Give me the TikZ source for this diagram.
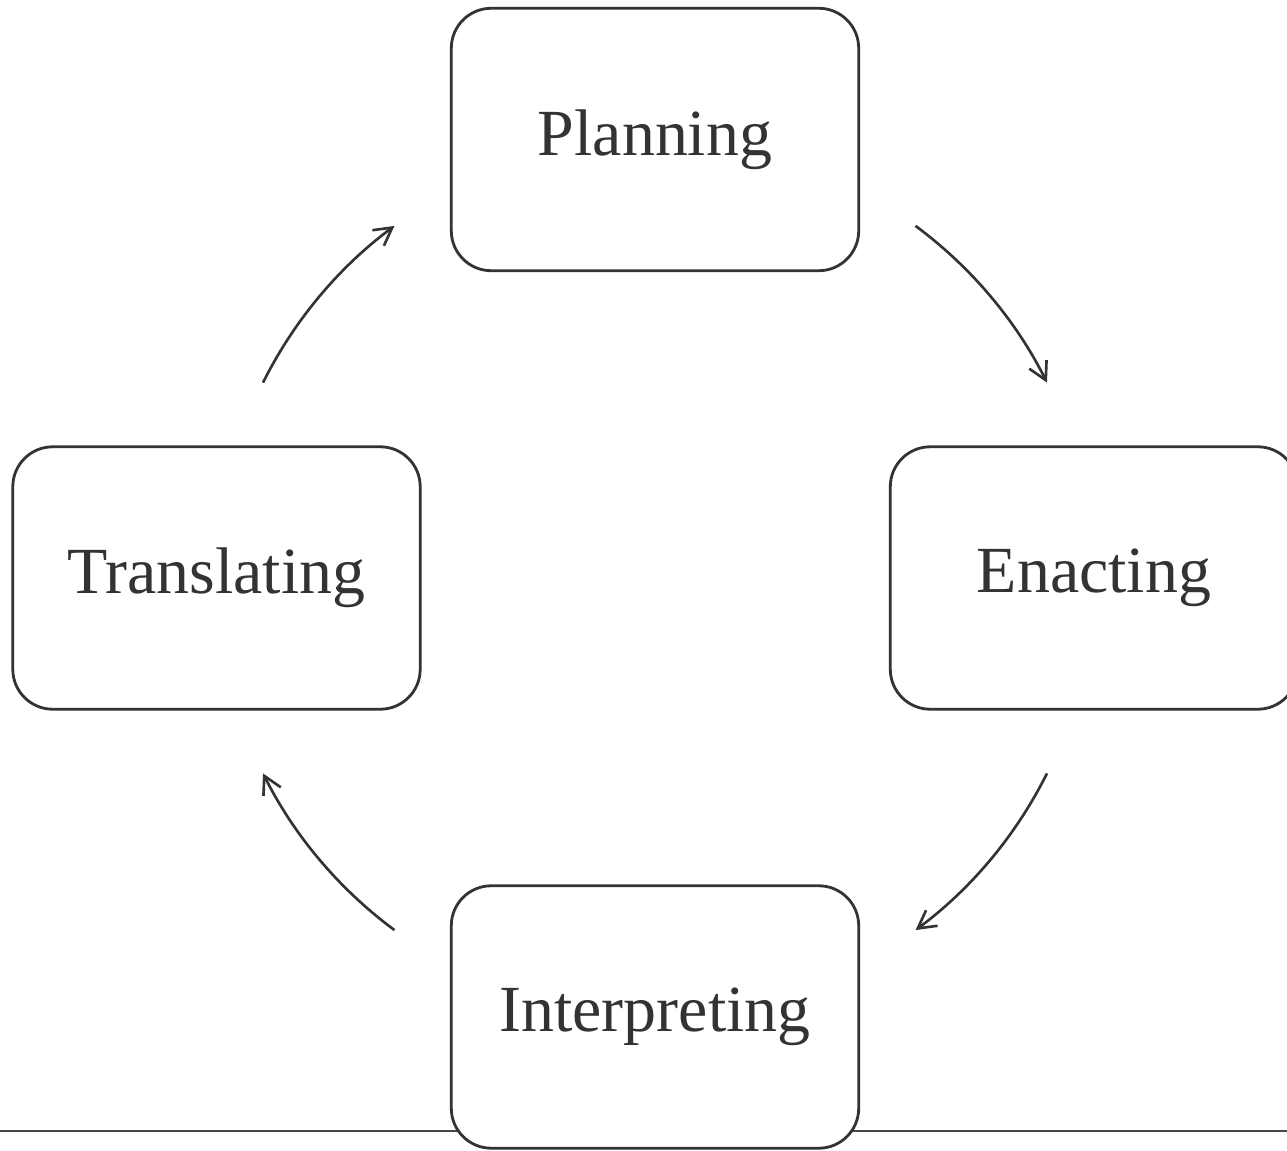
\documentclass[tikz,border=0pt]{standalone}
\usepackage{fontspec}
\setmainfont{Liberation Serif}
\usetikzlibrary{arrows.meta}
\definecolor{ink}{HTML}{333333}
\begin{document}
\begin{tikzpicture}[x=0.02cm,y=0.02cm,
  stage/.style={draw=ink, line width=1.6pt, fill=white, rounded corners=0.8cm,
    minimum width=8.15cm, minimum height=5.25cm, inner sep=0pt,
    text=ink, font=\fontsize{37.5}{44}\selectfont},
  flow/.style={draw=ink, line width=1.5pt,
    -{Straight Barb[length=10pt,width=11pt]}}]
  \useasboundingbox (0,0) rectangle (1287,1150);
  \clip (0,0) rectangle (1287,1150);

  % base rule running under the lower box
  \coordinate (ruleL) at (0,19);
  \coordinate (ruleR) at (1287,19);
  \draw[ink!90, line width=1pt] (ruleL) -- (ruleR);

  % the four stages of the cycle
  \node[stage] (plan)  at (655,1010.5) {Planning};
  \node[stage] (trans) at (216.5,572)  {Translating};
  \node[stage] (enact) at (1094,572)   {Enacting};
  \node[stage] (inter) at (655,133)    {Interpreting};

  % clockwise arcs around the centre of the cycle
  \coordinate (hub) at (655,572);
  \draw[flow] ([shift={(53.5:438)}]hub)  arc[start angle=53.5,  end angle=26.5,  radius=438];
  \draw[flow] ([shift={(-26.5:438)}]hub) arc[start angle=-26.5, end angle=-53.5, radius=438];
  \draw[flow] ([shift={(233.5:438)}]hub) arc[start angle=233.5, end angle=206.5, radius=438];
  \draw[flow] ([shift={(153.5:438)}]hub) arc[start angle=153.5, end angle=126.5, radius=438];
\end{tikzpicture}
\end{document}
